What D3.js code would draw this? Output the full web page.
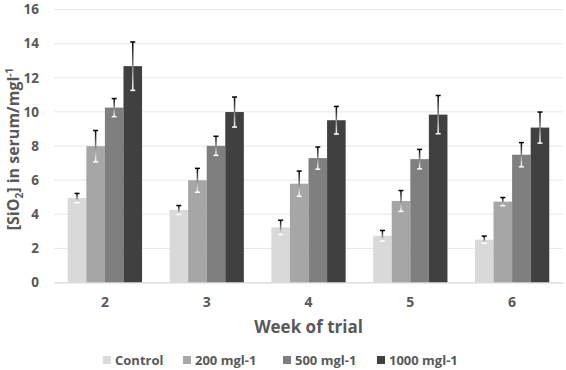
<!DOCTYPE html>
<html><head><meta charset="utf-8">
<script src="https://cdn.jsdelivr.net/npm/d3@7"></script>
<style>body{margin:0;background:#fff;}text{font-family:"Open Sans",sans-serif;font-weight:bold;fill:#595959;}</style>
</head><body><svg id="c" width="566" height="370"></svg>
<script>
const weeks = ["2","3","4","5","6"];
const seriesNames = ["Control","200 mgl-1","500 mgl-1","1000 mgl-1"];
const seriesColors = ["#d9d9d9","#a6a6a6","#7f7f7f","#404040"];
const control   = [4.95, 4.25, 3.23, 2.74, 2.51];
const mg200     = [7.99, 5.99, 5.79, 4.78, 4.74];
const mg500     = [10.25, 8.01, 7.29, 7.23, 7.49];
const mg1000    = [12.68, 9.99, 9.51, 9.84, 9.08];
const errControl = [0.27, 0.26, 0.42, 0.31, 0.21];
const err200     = [0.92, 0.70, 0.74, 0.61, 0.24];
const err500     = [0.53, 0.56, 0.65, 0.57, 0.71];
const err1000    = [1.42, 0.88, 0.81, 1.12, 0.91];
const yTicks = [0,2,4,6,8,10,12,14,16];

const values = [control, mg200, mg500, mg1000];
const errors = [errControl, err200, err500, err1000];

const svg = d3.select("#c");
const defs = svg.append("defs");
const g = defs.append("linearGradient").attr("id","eg").attr("x1",0).attr("y1",0).attr("x2",0).attr("y2",1);
g.append("stop").attr("offset","0%").attr("stop-color","#000");
g.append("stop").attr("offset","100%").attr("stop-color","#fff");

const L = 54, R = 563, T = 9.5, B = 282.5;
const y = d3.scaleLinear().domain([0,16]).range([B,T]);
const x0 = d3.scaleBand().domain(weeks).range([L,R]).paddingInner(0.27).paddingOuter(0.135);
const x1 = d3.scaleBand().domain(seriesNames).range([0,x0.bandwidth()]);

// gridlines
svg.append("g").selectAll("line").data(yTicks).join("line")
  .attr("x1",L).attr("x2",R).attr("y1",d=>y(d)).attr("y2",d=>y(d))
  .attr("stroke","#e6e6e6").attr("stroke-width",1);

// y axis labels
const ya = d3.axisLeft(y).tickValues(yTicks).tickSize(0).tickPadding(15);
const yg = svg.append("g").attr("transform",`translate(${L},0)`).call(ya);
yg.select(".domain").remove();
yg.selectAll("text").attr("font-size",13.5).attr("fill","#595959").style("font-family","Open Sans").style("font-weight","bold");

// bars
const groups = svg.append("g").selectAll("g").data(weeks).join("g")
  .attr("transform",d=>`translate(${x0(d)},0)`);
seriesNames.forEach((s,si)=>{
  groups.append("rect")
    .attr("x",x1(s)).attr("width",x1.bandwidth())
    .attr("y",(d,i)=>y(values[si][i])).attr("height",(d,i)=>B-y(values[si][i]))
    .attr("fill",seriesColors[si]);
});
// error bars
seriesNames.forEach((s,si)=>{
  const cx = x1(s)+x1.bandwidth()/2;
  groups.append("rect")
    .attr("x",cx-0.75).attr("width",1.5)
    .attr("y",(d,i)=>y(values[si][i]+errors[si][i]))
    .attr("height",(d,i)=>y(values[si][i]-errors[si][i])-y(values[si][i]+errors[si][i]))
    .attr("fill","url(#eg)");
  groups.append("line")
    .attr("x1",cx-2.5).attr("x2",cx+2.5)
    .attr("y1",(d,i)=>y(values[si][i]+errors[si][i])).attr("y2",(d,i)=>y(values[si][i]+errors[si][i]))
    .attr("stroke","#000").attr("stroke-width",1.5);
  groups.append("line")
    .attr("x1",cx-2.5).attr("x2",cx+2.5)
    .attr("y1",(d,i)=>y(values[si][i]-errors[si][i])).attr("y2",(d,i)=>y(values[si][i]-errors[si][i]))
    .attr("stroke","#fff").attr("stroke-width",1.5);
});

// x axis labels
const xa = d3.axisBottom(x0).tickSize(0).tickPadding(15);
const xg = svg.append("g").attr("transform",`translate(0,${B})`).call(xa);
xg.select(".domain").attr("stroke","#d9d9d9");
xg.selectAll("text").attr("font-size",14).attr("fill","#595959").style("font-family","Open Sans").style("font-weight","bold");

// axis titles
svg.append("text").attr("x",(L+R)/2).attr("y",333).attr("text-anchor","middle").attr("font-size",17).text("Week of trial");
const yt = svg.append("text").attr("transform",`translate(19,${(T+B)/2+3}) rotate(-90)`).attr("text-anchor","middle").attr("font-size",16);
yt.append("tspan").text("[SiO");
yt.append("tspan").attr("font-size",10).attr("dy",4).text("2");
yt.append("tspan").attr("dy",-4).text("] in serum/mgl");
yt.append("tspan").attr("font-size",10).attr("dy",-6).text("-1");

// legend
const legX = [103, 183, 283, 377];
const leg = svg.append("g").selectAll("g").data(seriesNames).join("g")
  .attr("transform",(d,i)=>`translate(${legX[i]},360)`);
leg.append("rect").attr("x",0).attr("y",-4).attr("width",8).attr("height",8).attr("fill",(d,i)=>seriesColors[i]);
leg.append("text").attr("x",12).attr("y",4.5).attr("font-size",13).text(d=>d);
</script></body></html>
